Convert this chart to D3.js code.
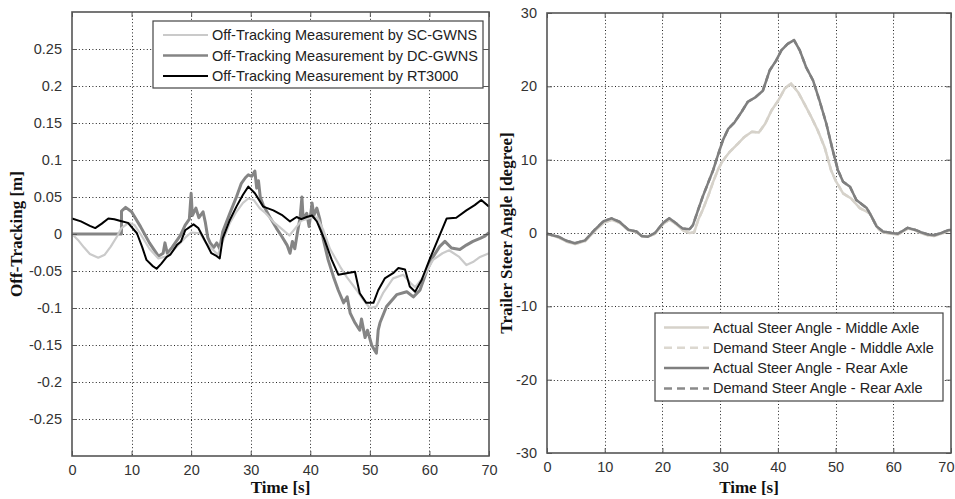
<!DOCTYPE html>
<html><head><meta charset="utf-8">
<script src="https://cdn.jsdelivr.net/npm/d3@7"></script>
<style>body{margin:0;background:#fff}svg{display:block}</style>
</head><body>
<svg id="c" width="955" height="499"></svg>
<script>
// ---------- Left chart data: Off-Tracking [m] ----------
const scTime = [0,1,2,3,4.4,5.5,6.5,7.5,8.3,9.5,10.5,11.5,13,14.5,16,17.5,19,20,21.5,22.5,23.5,24.5,25.3,26.5,27.6,28.7,29.6,30.5,31.5,32.5,34,35.5,36.5,37.5,38.5,40,41.2,42.2,43.3,45,46.1,47.8,48.9,50,51.1,52.2,53.9,55.6,56.8,57.6,59,60.6,62.2,63.3,65,66.2,67.3,68.5,70];
const scValues = [0,-0.008,-0.018,-0.027,-0.032,-0.028,-0.017,-0.004,0.008,0.015,0.012,0.0,-0.02,-0.033,-0.03,-0.018,-0.005,0.002,0.001,-0.012,-0.02,-0.028,-0.01,0.015,0.03,0.042,0.048,0.046,0.035,0.028,0.015,0.005,-0.002,0.008,0.018,0.022,0.022,0.005,-0.02,-0.044,-0.058,-0.076,-0.089,-0.1,-0.098,-0.08,-0.06,-0.055,-0.066,-0.072,-0.058,-0.035,-0.026,-0.022,-0.031,-0.042,-0.038,-0.031,-0.026];

const dcTime = [0,8.3,8.31,9,10,11.5,13,14.5,15.3,15.6,16,16.8,17.5,18.2,19,19.7,20,20.2,20.8,21.3,22,22.4,22.8,23.2,23.8,24.3,24.8,25.3,26.5,27.6,28.4,29.1,29.6,30.2,30.7,31,31.3,31.6,32.1,33.2,34.3,35.2,36.1,36.6,37,37.4,37.8,38.3,38.6,38.8,39.4,39.8,40.3,40.6,41.1,41.6,42.2,43,43.9,44.7,45.6,46.2,46.7,47.5,48.3,48.6,49.2,49.6,50.3,50.8,51.1,51.4,51.7,52.8,54.5,56.2,57.3,58.4,59.5,60.6,61.7,62.6,63.7,65.1,66.2,67.3,68.5,69.3,70];
const dcValues = [0,0,0.031,0.036,0.03,0.01,-0.012,-0.03,-0.026,-0.012,-0.026,-0.018,-0.01,-0.002,0.012,0.02,0.055,0.025,0.035,0.022,0.03,0.015,-0.005,-0.012,-0.018,-0.012,-0.02,0.003,0.028,0.05,0.068,0.076,0.08,0.078,0.085,0.062,0.072,0.05,0.039,0.023,0.008,-0.003,-0.015,-0.026,-0.01,-0.02,0.0,0.023,0.05,0.02,0.028,0.01,0.042,0.025,0.035,0.02,-0.008,-0.035,-0.058,-0.076,-0.093,-0.085,-0.107,-0.12,-0.13,-0.115,-0.14,-0.13,-0.15,-0.157,-0.161,-0.13,-0.12,-0.098,-0.082,-0.078,-0.085,-0.076,-0.051,-0.031,-0.017,-0.01,-0.019,-0.021,-0.015,-0.01,-0.006,-0.003,0.002];

const rtTime = [0,1.5,3,3.9,5,6.1,7.1,8,9.4,10.9,11.8,12.5,13.5,14.2,15,15.9,16.5,17.6,18.3,19,20.4,21.2,22,23.4,24.3,24.8,25.3,26.5,27.6,28.7,29.6,30.7,32.1,33.8,35.2,36.6,37.7,38.5,39.4,40.3,41.1,42.4,43.6,44.7,46.1,47.5,48.3,49.4,50.6,51.4,52.5,53.9,54.8,55.9,56.7,57.6,58.7,60.1,61.5,62.9,64.5,66.2,67.6,68.7,70];
const rtValues = [0.021,0.017,0.011,0.008,0.014,0.021,0.02,0.018,0.015,0.001,-0.018,-0.035,-0.043,-0.047,-0.04,-0.031,-0.028,-0.015,-0.01,0.005,0.013,0.008,-0.004,-0.026,-0.03,-0.033,-0.006,0.019,0.037,0.053,0.064,0.055,0.037,0.032,0.026,0.017,0.023,0.02,0.023,0.025,0.017,-0.008,-0.035,-0.055,-0.053,-0.051,-0.08,-0.093,-0.093,-0.076,-0.06,-0.053,-0.046,-0.048,-0.071,-0.078,-0.062,-0.033,-0.006,0.021,0.022,0.032,0.039,0.046,0.037];

const leftXTicks = [0,10,20,30,40,50,60,70];
const leftYTicks = [-0.25,-0.2,-0.15,-0.1,-0.05,0,0.05,0.1,0.15,0.2,0.25];
const leftLegend = ["Off-Tracking Measurement by SC-GWNS","Off-Tracking Measurement by DC-GWNS","Off-Tracking Measurement by RT3000"];

// ---------- Right chart data: Trailer Steer Angle [degree] ----------
const rearTime = [0,1.95,3.5,4.85,6.6,8.3,9.8,11.2,12.6,14.1,15.5,16.4,17.5,18.7,20.1,21.2,22.4,23.5,24.7,25.3,26.2,27,27.9,28.8,29.6,30.5,31.4,32.5,33.7,34.8,36.1,37.4,38.6,39.7,40.6,41.7,42.8,43.8,44.9,46.1,47.2,48.4,49.5,50.4,51.3,52.5,53.6,55.4,56.2,57.1,58.2,59.7,60.8,62.5,63.7,64.8,66,67.1,68.3,69.6,70];
const rearActual = [-0.1,-0.5,-1.1,-1.4,-1.0,0.45,1.6,2.0,1.5,0.45,0.2,-0.4,-0.5,0.0,1.35,2.0,1.3,0.6,0.5,1.1,3.2,5.0,6.8,8.6,10.6,12.7,14.2,15.1,16.5,17.9,18.5,19.4,22.2,23.5,24.9,25.8,26.3,24.9,22.6,20.8,18.1,14.9,11.3,8.6,7.0,6.3,4.5,3.4,2.3,0.9,0.2,0.0,-0.1,0.7,0.45,0.1,-0.2,-0.3,0.0,0.4,0.4];
const rearDemand = [-0.1,-0.5,-1.1,-1.4,-1.0,0.45,1.6,2.0,1.5,0.45,0.2,-0.4,-0.5,0.0,1.35,2.0,1.3,0.6,0.5,1.1,3.2,5.0,6.8,8.6,10.6,12.7,14.2,15.1,16.5,17.9,18.5,19.4,22.2,23.5,24.9,25.8,26.3,24.9,22.6,20.8,18.1,14.9,11.3,8.6,7.0,6.3,4.5,3.4,2.3,0.9,0.2,0.0,-0.1,0.7,0.45,0.1,-0.2,-0.3,0.0,0.4,0.4];

const midTime = [0,1.95,3.5,4.85,6.6,8.3,9.8,11.2,12.6,14.1,15.5,16.4,17.5,18.7,20.1,21.2,22.4,23.5,24.7,25.5,26.2,27,27.9,28.8,29.6,30.5,31.7,33.1,34.2,35.5,36.7,37.8,38.9,40.1,41.2,42.3,43.5,44.6,45.8,46.9,48.1,49.2,50.1,51.3,52.7,54.2,55.9,56.8,57.5,58.2,59.7,60.8,62.5,63.7,64.8,66,67.1,68.3,69.6,70];
const midActual = [-0.1,-0.6,-1.2,-1.5,-1.1,0.3,1.4,1.8,1.4,0.4,0.1,-0.4,-0.5,-0.1,1.2,1.8,1.2,0.4,0.0,0.1,1.8,3.2,5.0,7.0,8.6,9.9,11.1,12.2,13.1,13.8,13.7,14.9,16.7,18.1,19.7,20.4,19.2,17.6,15.8,14.0,11.7,8.6,7.0,5.4,4.7,3.4,2.7,1.4,0.5,0.1,-0.1,-0.2,0.6,0.4,0.0,-0.3,-0.4,-0.1,0.3,0.3];
const midDemand = [-0.1,-0.6,-1.2,-1.5,-1.1,0.3,1.4,1.8,1.4,0.4,0.1,-0.4,-0.5,-0.1,1.2,1.8,1.2,0.4,0.0,0.1,1.8,3.2,5.0,7.0,8.6,9.9,11.1,12.2,13.1,13.8,13.7,14.9,16.7,18.1,19.7,20.4,19.2,17.6,15.8,14.0,11.7,8.6,7.0,5.4,4.7,3.4,2.7,1.4,0.5,0.1,-0.1,-0.2,0.6,0.4,0.0,-0.3,-0.4,-0.1,0.3,0.3];

const rightXTicks = [0,10,20,30,40,50,60,70];
const rightYTicks = [-30,-20,-10,0,10,20,30];
const rightLegend = ["Actual Steer Angle - Middle Axle","Demand Steer Angle - Middle Axle","Actual Steer Angle - Rear Axle","Demand Steer Angle - Rear Axle"];

// ---------- drawing ----------
const svg = d3.select("#c");
svg.append("rect").attr("width",955).attr("height",499).attr("fill","#fff");
const tickFont = "Liberation Sans, Arial, sans-serif";
const titleFont = "Liberation Serif, Times New Roman, serif";

function panel(o){
  const x = d3.scaleLinear().domain([0,70]).range([o.x0,o.x1]);
  const y = d3.scaleLinear().domain(o.ydom).range([o.y1,o.y0]);
  const g = svg.append("g");
  // grid
  g.append("g").selectAll("line").data(o.xticks.filter(t=>t>0&&t<70)).join("line")
    .attr("x1",d=>Math.round(x(d))+0.5).attr("x2",d=>Math.round(x(d))+0.5)
    .attr("y1",o.y0).attr("y2",o.y1)
    .attr("stroke","#222").attr("stroke-width",1).attr("stroke-dasharray","1,2.4");
  g.append("g").selectAll("line").data(o.yticks.filter(t=>t>o.ydom[0]&&t<o.ydom[1])).join("line")
    .attr("y1",d=>Math.round(y(d))+0.5).attr("y2",d=>Math.round(y(d))+0.5)
    .attr("x1",o.x0).attr("x2",o.x1)
    .attr("stroke","#222").attr("stroke-width",1).attr("stroke-dasharray","1,2.4");
  // series
  o.series.forEach(s=>{
    const pts = s.t.map((t,i)=>[t,s.v[i]]);
    g.append("path").datum(pts)
      .attr("d",d3.line().x(d=>x(d[0])).y(d=>y(d[1])))
      .attr("fill","none").attr("stroke",s.color).attr("stroke-width",s.w)
      .attr("stroke-linejoin","round")
      .attr("stroke-dasharray",s.dash||null);
  });
  // axes (inward ticks, box)
  const tl = 5;
  const fmt = d=>String(d);
  const axB = d3.axisBottom(x).tickValues(o.xticks).tickSize(-tl).tickPadding(9).tickFormat(fmt);
  const axT = d3.axisTop(x).tickValues(o.xticks).tickSize(-tl).tickFormat("");
  const axL = d3.axisLeft(y).tickValues(o.yticks).tickSize(-tl).tickPadding(10).tickFormat(fmt);
  const axR = d3.axisRight(y).tickValues(o.yticks).tickSize(-tl).tickFormat("");
  const style = a=>{a.selectAll("path").attr("stroke","#555").attr("stroke-width",1.6);
    a.selectAll("line").attr("stroke","#555");
    a.selectAll("text").attr("fill","#333").style("font-family",tickFont).style("font-size","14.5px");};
  const bottom = g.append("g").attr("transform",`translate(0,${o.y1})`).call(axB).call(style);
  if (o.lastXEnd) {
    // keep the last x label inside the picture
    bottom.selectAll(".tick").filter(d=>d===70).select("text")
      .attr("text-anchor","end").attr("x",o.lastXEnd - x(70));
  }
  g.append("g").attr("transform",`translate(0,${o.y0})`).call(axT).call(style);
  g.append("g").attr("transform",`translate(${o.x0},0)`).call(axL).call(style);
  g.append("g").attr("transform",`translate(${o.x1},0)`).call(axR).call(style);
  g.selectAll(".domain").attr("d",null);
  g.append("rect").attr("x",o.x0).attr("y",o.y0).attr("width",o.x1-o.x0).attr("height",o.y1-o.y0)
    .attr("fill","none").attr("stroke","#555").attr("stroke-width",1.6);
  // titles
  svg.append("text").attr("x",(o.x0+o.x1)/2).attr("y",493).attr("text-anchor","middle")
    .style("font-family",titleFont).style("font-weight","bold").style("font-size","17px").attr("fill","#111")
    .text("Time [s]");
  svg.append("text").attr("transform",`translate(${o.ytx},${(o.y0+o.y1)/2}) rotate(-90)`)
    .attr("text-anchor","middle")
    .style("font-family",titleFont).style("font-weight","bold").style("font-size","17px").attr("fill","#111")
    .text(o.ytitle);
  // legend
  const L = o.legend;
  const lg = svg.append("g");
  lg.append("rect").attr("x",L.x).attr("y",L.y).attr("width",L.w).attr("height",L.h)
    .attr("fill","#fff").attr("stroke","#444").attr("stroke-width",1.2);
  L.items.forEach((it,i)=>{
    const cy = L.y + L.first + i*L.step;
    lg.append("line").attr("x1",L.x+L.lx0).attr("x2",L.x+L.lx1).attr("y1",cy).attr("y2",cy)
      .attr("stroke",it.color).attr("stroke-width",it.w).attr("stroke-dasharray",it.dash||null);
    lg.append("text").attr("x",L.x+L.tx).attr("y",cy+5).attr("fill","#222")
      .style("font-family",tickFont).style("font-size","14.5px").text(it.label);
  });
}

panel({
  x0:72,x1:489,y0:12,y1:456,ydom:[-0.3,0.3],
  xticks:leftXTicks,yticks:leftYTicks,
  ytitle:"Off-Tracking [m]", ytx:22,
  series:[
    {t:dcTime,v:dcValues,color:"#858585",w:3},
    {t:scTime,v:scValues,color:"#cacaca",w:2.2},
    {t:rtTime,v:rtValues,color:"#000",w:2}
  ],
  legend:{x:153,y:21,w:330,h:67,first:14,step:20.5,lx0:10,lx1:55,tx:59,
    items:[
      {label:leftLegend[0],color:"#cacaca",w:2.2},
      {label:leftLegend[1],color:"#858585",w:2.5},
      {label:leftLegend[2],color:"#000",w:2}
    ]}
});

panel({
  x0:547,x1:951,y0:13,y1:453,ydom:[-30,30],
  xticks:rightXTicks,yticks:rightYTicks,
  ytitle:"Trailer Steer Angle [degree]", ytx:512, lastXEnd:954,
  series:[
    {t:midTime,v:midDemand,color:"#d6d2ca",w:2.5,dash:"6,4"},
    {t:rearTime,v:rearDemand,color:"#8a8a8a",w:2.5,dash:"6,4"},
    {t:midTime,v:midActual,color:"#d6d2ca",w:2.5},
    {t:rearTime,v:rearActual,color:"#7f7f7f",w:2.5}
  ],
  legend:{x:655,y:313,w:288,h:88,first:14.5,step:20.3,lx0:9,lx1:54,tx:58,
    items:[
      {label:rightLegend[0],color:"#d6d2ca",w:2.5},
      {label:rightLegend[1],color:"#dcd8d0",w:2.5,dash:"8,5"},
      {label:rightLegend[2],color:"#7f7f7f",w:2.5},
      {label:rightLegend[3],color:"#8a8a8a",w:2.5,dash:"8,5"}
    ]}
});
</script>
</body></html>
